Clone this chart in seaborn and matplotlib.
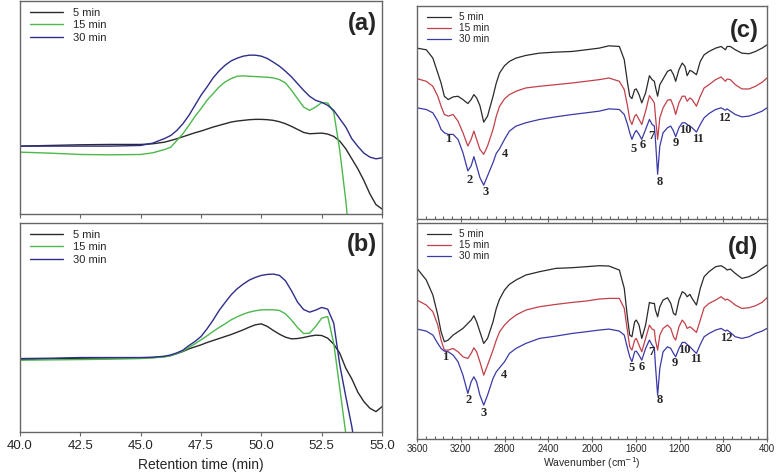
import numpy as np
import pandas as pd
import matplotlib
matplotlib.use("Agg")
import matplotlib.pyplot as plt
from matplotlib.ticker import MultipleLocator, FormatStrFormatter
import seaborn as sns

# ---------------- data: GPC (retention time) ----------------
rt = [40, 41.25, 42.5, 43.75, 45, 45.5, 46, 46.25, 46.5, 46.75, 47, 47.25,
      47.5, 47.75, 48, 48.25, 48.5, 48.75, 49, 49.25, 49.5, 49.75, 50, 50.25,
      50.5, 50.75, 51, 51.25, 51.5, 51.75, 52, 52.25, 52.5, 52.75, 53, 53.25,
      53.5, 53.75, 54, 54.25, 54.5, 54.75, 55]

a_5 = [20.3, 20.5, 20.7, 20.8, 20.8, 21.0, 21.5,
       22.0, 22.5, 23.1, 23.7, 24.3, 24.8, 25.4, 26.0, 26.5, 27.0,
       27.5, 27.8, 28.0, 28.2, 28.3, 28.3, 28.2, 28.0, 27.6, 27.0,
       26.2, 25.3, 24.4, 24.0, 24.1, 24.2, 23.9, 23.2, 21.8, 19.5,
       16.5, 13.5, 10.0, 6.0, 2.8, 1.5]
a_15 = [18.5, 18.2, 17.8, 17.7, 17.8, 18.3, 19.3,
        20.0, 22.0, 24.0, 26.5, 29.2, 31.5, 34.0, 36.0, 38.0, 39.5,
        40.5, 41.2, 41.3, 41.2, 41.1, 41.0, 40.9, 40.7, 40.2, 39.2,
        37.0, 34.5, 32.0, 31.0, 32.0, 33.3, 33.2, 30.5, 19.0, 4.0,
        -15, -20, -20, -20, -20, -20]
a_30 = [20.3, 20.3, 20.3, 20.3, 20.5, 21.2, 22.6,
        23.5, 25.0, 27.0, 29.5, 32.5, 35.5, 38.0, 40.7, 42.8, 44.5,
        45.8, 46.6, 47.2, 47.5, 47.5, 47.2, 46.5, 45.4, 44.2, 42.7,
        41.0, 39.0, 37.0, 35.2, 34.0, 33.4, 32.5, 31.0, 28.5, 26.0,
        22.5, 20.2, 18.2, 17.0, 16.5, 16.8]

b_5 = [21.7, 21.9, 22.1, 22.2, 22.2, 22.3, 22.6,
       22.9, 23.5, 24.1, 24.9, 25.5, 26.1, 26.8, 27.4, 28.0, 28.6,
       29.2, 29.9, 30.6, 31.4, 32.1, 32.4, 31.6, 30.4, 29.3, 28.4,
       27.9, 28.0, 28.3, 28.7, 29.0, 28.9, 28.1, 26.3, 23.6, 19.1,
       15.9, 11.9, 9.1, 7.1, 6.1, 7.6]
b_15 = [21.5, 21.6, 21.7, 21.8, 22.0, 22.2, 22.5,
        22.9, 23.5, 24.2, 25.3, 26.4, 27.6, 28.8, 30.1, 31.3, 32.4,
        33.6, 34.5, 35.3, 35.9, 36.3, 36.6, 36.6, 36.6, 36.4, 35.4,
        33.5, 31.3, 29.5, 29.6, 31.6, 34.1, 34.6, 26.6, 13.1, -0.5,
        -15, -20, -20, -20, -20, -20]
b_30 = [22.0, 22.1, 22.3, 22.3, 22.3, 22.4, 22.7,
        23.1, 23.7, 24.5, 25.9, 27.1, 28.6, 30.9, 33.5, 36.4, 38.8,
        41.1, 42.9, 44.3, 45.5, 46.3, 46.9, 47.2, 47.3, 46.9, 45.3,
        42.3, 38.9, 36.7, 35.9, 36.5, 37.3, 36.8, 32.6, 20.1, 10.6,
        1.6, -10, -20, -20, -20, -20]

# ---------------- data: FTIR (wavenumber) ----------------
wn = [3600, 3515, 3455, 3410, 3380, 3350, 3315, 3270, 3225, 3180, 3135, 3105,
      3080, 3055, 3025, 2990, 2955, 2905, 2875, 2845, 2800, 2755, 2695, 2605,
      2480, 2330, 2180, 2055, 1935, 1845, 1750, 1705, 1675, 1655, 1635, 1610,
      1595, 1570, 1545, 1510, 1475, 1450, 1430, 1420, 1400, 1380, 1350, 1310,
      1280, 1255, 1235, 1205, 1175, 1150, 1130, 1105, 1085, 1045, 1010, 975,
      930, 870, 820, 780, 765, 735, 690, 630, 565, 505, 445, 400]

c_5 = [51.5, 51.0, 48.5, 44.0, 41.0, 37.0, 36.0, 36.8, 37.0, 36.0, 34.8, 36.0,
       37.5, 36.5, 34.2, 29.2, 31.0, 37.0, 41.0, 44.0, 46.2, 47.5, 48.5, 49.3,
       50.0, 50.3, 50.5, 51.0, 51.5, 52.2, 52.0, 48.0, 41.0, 37.0, 36.3, 39.0,
       39.2, 37.5, 35.0, 38.0, 43.2, 42.0, 41.5, 39.8, 37.0, 40.5, 42.2, 44.5,
       45.0, 43.5, 41.5, 45.0, 47.0, 46.0, 43.2, 44.8, 44.5, 43.5, 47.5, 49.5,
       50.5, 51.5, 52.0, 51.0, 52.0, 52.0, 51.0, 50.0, 49.8, 50.5, 51.5, 52.5]
c_15 = [42.3, 41.5, 40.0, 37.0, 34.0, 31.5, 31.0, 31.5, 29.5, 26.0, 22.0, 24.0,
        26.5, 24.0, 21.0, 19.5, 22.0, 27.0, 31.0, 34.0, 36.2, 37.5, 38.5, 39.5,
        40.0, 40.5, 41.0, 41.5, 42.0, 42.5, 41.5, 39.0, 34.0, 30.0, 28.5, 31.0,
        31.5, 30.0, 28.5, 32.5, 37.2, 36.0, 35.0, 31.0, 24.0, 30.5, 33.5, 35.8,
        36.0, 34.0, 31.5, 35.0, 37.0, 37.0, 35.5, 36.5, 36.0, 34.0, 37.0, 39.5,
        40.5, 42.0, 42.8, 41.5, 42.2, 42.0, 40.5, 39.2, 39.2, 40.0, 41.2, 42.5]
c_30 = [33.5, 33.0, 32.0, 29.5, 27.0, 26.0, 25.5, 25.5, 24.0, 20.0, 14.5, 16.0,
        18.8, 16.0, 12.5, 10.2, 13.0, 17.0, 19.8, 21.2, 24.0, 26.5, 28.0, 29.0,
        30.0, 30.8, 31.5, 32.0, 32.5, 33.2, 33.0, 31.5, 28.5, 26.0, 24.0, 26.0,
        26.7, 25.5, 24.0, 27.0, 30.0, 28.5, 28.0, 24.0, 13.5, 22.0, 26.0, 27.5,
        28.0, 26.5, 24.8, 27.5, 29.0, 29.0, 28.5, 28.0, 27.5, 26.2, 28.5, 30.5,
        31.8, 33.0, 33.5, 32.8, 33.2, 32.5, 31.5, 30.8, 31.0, 31.7, 32.5, 33.5]

d_5 = [51.0, 47.5, 43.0, 37.0, 32.0, 29.0, 29.5, 31.0, 32.0, 33.0, 34.5, 35.5,
       36.8, 35.0, 32.0, 28.5, 30.0, 35.0, 39.0, 41.8, 44.5, 46.2, 47.5, 49.0,
       50.0, 51.0, 51.2, 51.5, 51.8, 51.7, 50.5, 45.0, 36.0, 31.0, 30.5, 35.0,
       35.5, 34.0, 30.0, 34.0, 40.8, 40.5, 40.5, 38.5, 36.5, 39.5, 41.5, 42.2,
       40.5, 37.5, 37.0, 41.5, 44.0, 43.5, 42.5, 43.2, 42.0, 40.0, 45.0, 48.5,
       50.0, 51.5, 51.8, 51.0, 50.5, 50.8, 49.5, 48.0, 48.5, 49.5, 51.0, 52.0]
d_15 = [41.5, 40.0, 38.0, 34.0, 29.5, 26.5, 26.5, 27.0, 26.0, 24.5, 24.0, 25.5,
        27.2, 26.0, 23.0, 19.0, 22.0, 26.5, 29.5, 32.0, 34.0, 35.5, 37.0, 38.5,
        39.5, 40.2, 40.8, 41.2, 41.8, 42.0, 42.0, 39.0, 32.0, 27.5, 26.5, 29.5,
        30.0, 28.0, 26.0, 30.0, 34.0, 32.8, 32.5, 29.5, 26.5, 31.0, 33.0, 34.0,
        33.0, 30.5, 29.5, 33.5, 35.5, 34.5, 33.0, 33.5, 33.0, 31.8, 35.5, 39.2,
        40.5, 41.5, 42.5, 41.5, 41.8, 41.2, 40.0, 39.0, 39.2, 39.8, 40.8, 42.2]
d_30 = [32.8, 32.2, 31.0, 28.5, 27.0, 26.2, 26.0, 25.0, 23.0, 19.0, 13.5, 17.0,
        18.5, 17.0, 13.0, 10.0, 13.0, 18.0, 20.0, 21.2, 23.0, 25.5, 27.0, 28.5,
        30.0, 30.7, 31.5, 32.0, 32.5, 32.8, 32.2, 31.0, 27.0, 24.5, 23.0, 26.0,
        26.2, 25.0, 23.5, 27.0, 29.5, 28.0, 27.2, 22.0, 13.0, 21.0, 26.0, 27.5,
        27.0, 25.5, 24.5, 27.0, 28.8, 28.8, 28.2, 27.5, 26.8, 25.5, 28.2, 30.5,
        31.5, 32.5, 33.0, 32.2, 32.5, 31.8, 30.5, 30.0, 30.5, 31.5, 32.2, 33.0]

peak_labels = ["1", "2", "3", "4", "5", "6", "7", "8", "9", "10", "11", "12"]
c_label_wn = [3317, 3120, 2974, 2800, 1622, 1533, 1457, 1382, 1236, 1151, 1032, 789]
c_label_val = [24.2, 11.7, 8.2, 19.7, 21.0, 22.3, 25.0, 11.2, 23.0, 26.8, 24.2, 30.3]
d_label_wn = [3340, 3128, 2988, 2805, 1642, 1550, 1459, 1383, 1246, 1155, 1048, 774]
d_label_val = [24.5, 11.5, 7.7, 19.0, 21.2, 21.5, 26.0, 11.5, 22.5, 26.5, 23.8, 30.0]

series_names = ["5 min", "15 min", "30 min"]
gpc_colors = ["#2a2a2a", "#4cb84c", "#2e2e8a"]
ir_colors = ["#2a2a2a", "#c2404a", "#3a3aa8"]

# ---------------- figure ----------------
sns.set_style("ticks")
plt.rcParams["font.family"] = ["Liberation Sans", "DejaVu Sans"]

fig = plt.figure(figsize=(7.83, 4.76), dpi=100)
W, H = 783, 476

def make_ax(x0, y0, x1, y1):
    return fig.add_axes([x0 / W, (H - y1) / H, (x1 - x0) / W, (y1 - y0) / H])

ax_a = make_ax(20, 1, 382, 214)
ax_b = make_ax(20, 223, 382, 432)
ax_c = make_ax(417, 6, 767, 219)
ax_d = make_ax(417, 223, 767, 438.5)

def long_df(x, ys, xname):
    rows = []
    for name, y in zip(series_names, ys):
        rows.append(pd.DataFrame({xname: x, "val": y, "series": name}))
    return pd.concat(rows, ignore_index=True)

spine_col = "#666666"

def style_spines(ax):
    for s in ax.spines.values():
        s.set_color(spine_col)
        s.set_linewidth(1.0)
        s.set_visible(True)
    ax.set_yticks([])
    ax.set_ylabel("")

# GPC panels
for ax, ys, letter, ylim in [(ax_a, [a_5, a_15, a_30], "(a)", (0, 63.7)),
                             (ax_b, [b_5, b_15, b_30], "(b)", (0, 62.6))]:
    df = long_df(rt, ys, "rt")
    sns.lineplot(data=df, x="rt", y="val", hue="series", palette=gpc_colors,
                 estimator=None, sort=True, linewidth=1.0, ax=ax)
    ax.set_xlim(40, 55)
    ax.set_ylim(*ylim)
    ax.xaxis.set_major_locator(MultipleLocator(2.5))
    ax.tick_params(axis="x", direction="out", length=3, width=0.8,
                   color=spine_col, labelsize=9.5, pad=3)
    style_spines(ax)
    ax.legend(loc="upper left", frameon=False, fontsize=8, handlelength=2.9,
              handletextpad=0.9, labelspacing=0.22, borderaxespad=0.2,
              bbox_to_anchor=(0.01, 1.0))
    ax.text(0.985, 0.95, letter, transform=ax.transAxes, ha="right", va="top",
            fontsize=17, fontweight="bold")

ax_a.set_xticklabels([])
ax_a.set_xlabel("")
ax_b.xaxis.set_major_formatter(FormatStrFormatter("%.1f"))
ax_b.set_xlabel("Retention time (min)", fontsize=10, labelpad=4)

# FTIR panels
for ax, ys, letter, ylim, lw, lv in [
        (ax_c, [c_5, c_15, c_30], "(c)", (0, 64.2), c_label_wn, c_label_val),
        (ax_d, [d_5, d_15, d_30], "(d)", (0, 64.6), d_label_wn, d_label_val)]:
    df = long_df(wn, ys, "wn")
    sns.lineplot(data=df, x="wn", y="val", hue="series", palette=ir_colors,
                 estimator=None, sort=True, linewidth=0.9, ax=ax)
    ax.set_xlim(3600, 400)
    ax.set_ylim(*ylim)
    ax.xaxis.set_major_locator(MultipleLocator(400))
    ax.xaxis.set_minor_locator(MultipleLocator(80))
    ax.tick_params(axis="x", which="major", direction="inout", length=4,
                   width=0.8, color=spine_col, labelsize=7, pad=2)
    ax.tick_params(axis="x", which="minor", direction="in", length=2,
                   width=0.8, color=spine_col)
    style_spines(ax)
    ax.legend(loc="upper left", frameon=False, fontsize=7.2, handlelength=2.4,
              handletextpad=0.8, labelspacing=0.1, borderaxespad=0.2,
              bbox_to_anchor=(0.01, 1.0))
    ax.text(0.975, 0.94, letter, transform=ax.transAxes, ha="right", va="top",
            fontsize=17, fontweight="bold")
    for lab, x, y in zip(peak_labels, lw, lv):
        ax.text(x, y, lab, ha="center", va="center", fontsize=9,
                fontweight="bold", family=["Liberation Serif", "DejaVu Serif"])

ax_c.set_xticklabels([])
ax_c.set_xlabel("")
ax_d.set_xlabel("Wavenumber (cm$^{-1}$)", fontsize=7.5, labelpad=1)

fig.savefig("out.png", dpi=100)
